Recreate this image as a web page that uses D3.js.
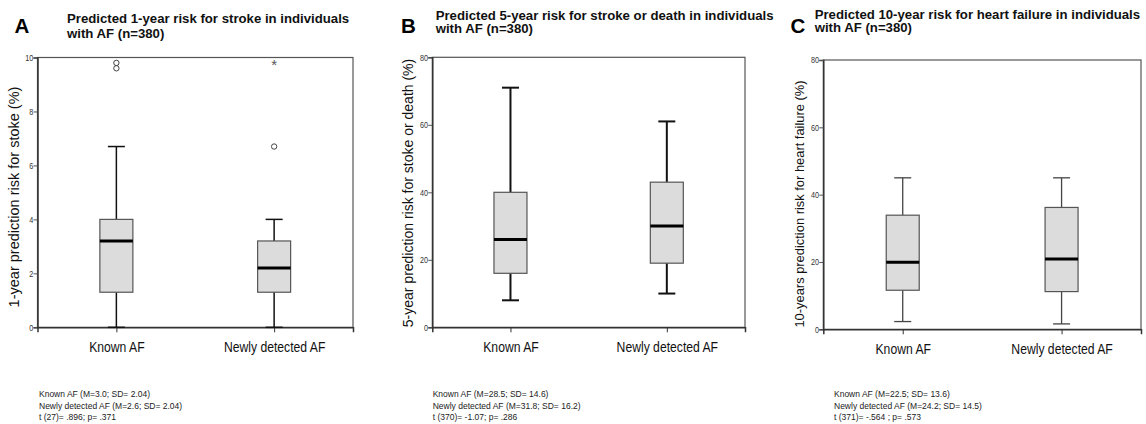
<!DOCTYPE html>
<html><head><meta charset="utf-8">
<script src="https://cdn.jsdelivr.net/npm/d3@7"></script>
<style>body{margin:0;background:#fff}svg{display:block}</style>
</head><body>
<svg id="chart" width="1146" height="424"></svg>
<script>
// ---------- data ----------
const categories = ["Known AF", "Newly detected AF"];

// five-number summaries [lowerWhisker, Q1, median, Q3, upperWhisker]
const stroke1yBoxes = [[0, 1.3, 3.2, 4.0, 6.7], [0, 1.3, 2.2, 3.2, 4.0]];
const stroke1yOutliers = [[9.8, 9.6], [6.7]];
const stroke1yExtremes = [[], [9.8]];
const stroke1yTicks = [0, 2, 4, 6, 8, 10];

const strokeDeath5yBoxes = [[8, 16, 26, 40, 71], [10, 19, 30, 43, 61]];
const strokeDeath5yTicks = [0, 20, 40, 60, 80];

const hf10yBoxes = [[2.3, 11.6, 19.9, 33.9, 45], [1.6, 11.2, 20.9, 36.2, 45]];
const hf10yTicks = [0, 20, 40, 60, 80];

const titlesA = ["Predicted 1-year risk for stroke in individuals", "with AF (n=380)"];
const titlesB = ["Predicted 5-year risk for stroke or death in individuals", "with AF (n=380)"];
const titlesC = ["Predicted 10-year risk for heart failure in individuals", "with AF (n=380)"];

const yLabels = ["1-year prediction risk for stoke (%)", "5-year prediction risk for stoke or death (%)", "10-years prediction risk for heart failure (%)"];

const statsA = ["Known AF (M=3.0; SD= 2.04)", "Newly detected AF (M=2.6; SD= 2.04)", "t (27)= .896; p= .371"];
const statsB = ["Known AF (M=28.5; SD= 14.6)", "Newly detected AF (M=31.8; SD= 16.2)", "t (370)= -1.07; p= .286"];
const statsC = ["Known AF (M=22.5; SD= 13.6)", "Newly detected AF (M=24.2; SD= 14.5)", "t (371)= -.564 ; p= .573"];

// ---------- layout ----------
const panels = [
  {letter: "A", lx: 14.5, ly: 33.3, tx: 67, tb: [23, 38], titles: titlesA, yLabel: yLabels[0], ylx: 14, yly: 197, ylfs: 14.5,
   left: 37.5, right: 353, top: 57.5, bottom: 327.3, domain: [0, 10], ticks: stroke1yTicks,
   boxes: stroke1yBoxes, outliers: stroke1yOutliers, extremes: stroke1yExtremes, stats: statsA, sx: 39,
   whiskerW: 1.5, whiskerC: "#111"},
  {letter: "B", lx: 401, ly: 33.3, tx: 435.7, tb: [20, 33], titles: titlesB, yLabel: yLabels[1], ylx: 408, yly: 193, ylfs: 14,
   left: 432.3, right: 745, top: 57.3, bottom: 327.3, domain: [0, 80], ticks: strokeDeath5yTicks,
   boxes: strokeDeath5yBoxes, outliers: [[], []], extremes: [[], []], stats: statsB, sx: 432.7,
   whiskerW: 2, whiskerC: "#111"},
  {letter: "C", lx: 790.5, ly: 33.3, tx: 814.7, tb: [19, 32], titles: titlesC, yLabel: yLabels[2], ylx: 799, yly: 204, ylfs: 12.9,
   left: 823.3, right: 1141, top: 60, bottom: 329.3, domain: [0, 80], ticks: hf10yTicks,
   boxes: hf10yBoxes, outliers: [[], []], extremes: [[], []], stats: statsC, sx: 834,
   whiskerW: 1.3, whiskerC: "#444"}
];

const svg = d3.select("#chart");
const SANS = "'Liberation Sans', Arial, sans-serif";

panels.forEach(p => {
  const g = svg.append("g");
  const x = d3.scalePoint().domain(categories).range([p.left, p.right]).padding(0.5);
  const y = d3.scaleLinear().domain(p.domain).range([p.bottom, p.top]);

  // letter + title
  g.append("text").attr("x", p.lx).attr("y", p.ly).text(p.letter)
    .attr("font-family", SANS).attr("font-weight", "bold").attr("font-size", 20.5).attr("fill", "#000");
  p.titles.forEach((t, i) => {
    g.append("text").attr("x", p.tx).attr("y", p.tb[i]).text(t)
      .attr("font-family", SANS).attr("font-weight", "bold").attr("font-size", 13.2).attr("fill", "#111");
  });

  // frame
  g.append("rect").attr("x", p.left).attr("y", p.top).attr("width", p.right - p.left).attr("height", p.bottom - p.top)
    .attr("fill", "none").attr("stroke", "#555").attr("stroke-width", 1.2);

  // y axis
  const yAxis = d3.axisLeft(y).tickValues(p.ticks).tickSize(4).tickPadding(1).tickFormat(d3.format("d"));
  const ya = g.append("g").attr("transform", `translate(${p.left},0)`).call(yAxis);
  ya.select(".domain").attr("stroke", "#333").attr("stroke-width", 1.5);
  ya.selectAll(".tick line").attr("stroke", "#555");
  ya.selectAll(".tick text").attr("font-family", SANS).attr("font-size", 8.5).attr("fill", "#333")
    .attr("transform", "scale(0.85,1)");

  // x axis
  const xAxis = d3.axisBottom(x).tickSize(5).tickPadding(9);
  const xa = g.append("g").attr("transform", `translate(0,${p.bottom})`).call(xAxis);
  xa.select(".domain").attr("stroke", "#333").attr("stroke-width", 1.5);
  xa.selectAll(".tick line").attr("stroke", "#333");
  xa.selectAll(".tick text").attr("font-family", SANS).attr("font-size", 14.5).attr("fill", "#111")
    .attr("transform", "scale(0.84,1)");

  // y label
  g.append("text").attr("transform", `translate(${p.ylx + 5},${p.yly}) rotate(-90)`)
    .attr("text-anchor", "middle").text(p.yLabel)
    .attr("font-family", SANS).attr("font-size", p.ylfs).attr("fill", "#111");

  // boxes
  const bw = 33, cw = 17;
  categories.forEach((c, i) => {
    const [lo, q1, med, q3, hi] = p.boxes[i];
    const cx = x(c);
    const wg = g.append("g").attr("stroke", p.whiskerC).attr("stroke-width", p.whiskerW);
    wg.append("line").attr("x1", cx).attr("x2", cx).attr("y1", y(q3)).attr("y2", y(hi));
    wg.append("line").attr("x1", cx).attr("x2", cx).attr("y1", y(q1)).attr("y2", y(lo));
    wg.append("line").attr("x1", cx - cw / 2).attr("x2", cx + cw / 2).attr("y1", y(hi)).attr("y2", y(hi));
    wg.append("line").attr("x1", cx - cw / 2).attr("x2", cx + cw / 2).attr("y1", y(lo)).attr("y2", y(lo));
    g.append("rect").attr("x", cx - bw / 2).attr("y", y(q3)).attr("width", bw).attr("height", y(q1) - y(q3))
      .attr("fill", "#dcdcdc").attr("stroke", "#555").attr("stroke-width", 1.2);
    g.append("line").attr("x1", cx - bw / 2).attr("x2", cx + bw / 2).attr("y1", y(med)).attr("y2", y(med))
      .attr("stroke", "#000").attr("stroke-width", 3);
    p.outliers[i].forEach(v => {
      g.append("circle").attr("cx", cx).attr("cy", y(v)).attr("r", 2.7)
        .attr("fill", "none").attr("stroke", "#444").attr("stroke-width", 1);
    });
    p.extremes[i].forEach(v => {
      g.append("text").attr("x", cx).attr("y", y(v) + 7).attr("text-anchor", "middle").text("*")
        .attr("font-family", SANS).attr("font-size", 15).attr("fill", "#555");
    });
  });

  // stats
  p.stats.forEach((s, i) => {
    g.append("text").attr("x", p.sx).attr("y", 397 + i * 11.7).text(s)
      .attr("font-family", SANS).attr("font-size", 8.5).attr("fill", "#222");
  });
});
</script>
</body></html>
